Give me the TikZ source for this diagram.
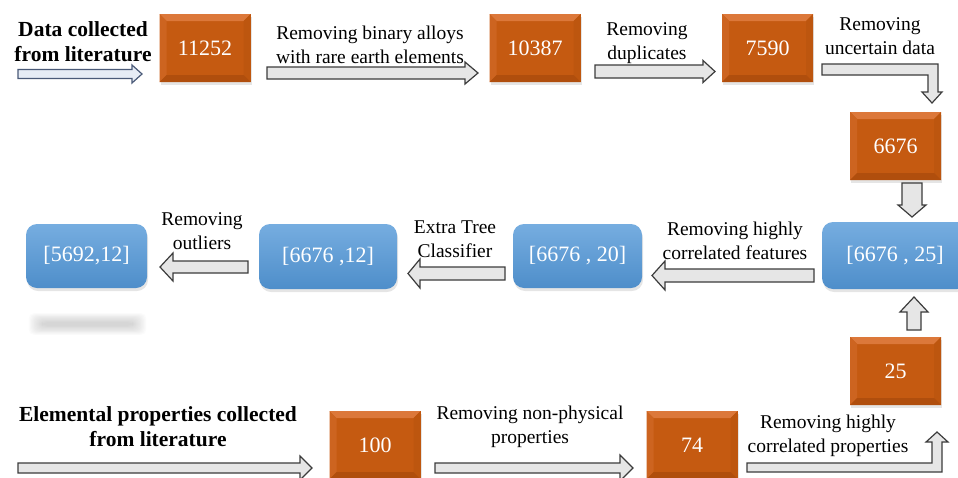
\documentclass[tikz,border=0pt]{standalone}
\usepackage{fontspec}
\setmainfont{Liberation Serif}
\definecolor{orgC}{HTML}{C55A11}
\definecolor{orgT}{HTML}{DC783A}
\definecolor{orgL}{HTML}{CD6420}
\definecolor{orgR}{HTML}{BD560F}
\definecolor{orgB}{HTML}{B04E0D}
\definecolor{bluT}{HTML}{76ADE0}
\definecolor{bluB}{HTML}{4E8ECA}
\definecolor{arrF}{HTML}{E6E6E6}
\definecolor{arrD}{HTML}{3C3C3C}
\definecolor{arrBF}{HTML}{E6ECF5}
\definecolor{arrBD}{HTML}{4A5A78}
\tikzset{
  obox/.style={minimum width=91pt,minimum height=68pt,inner sep=0pt,fill=orgC,text=white,
    font=\fontsize{22}{26}\selectfont,
    path picture={
      \fill[orgT] (path picture bounding box.north west) -- (path picture bounding box.north east)
        -- ([shift={(-7pt,-7pt)}]path picture bounding box.north east) -- ([shift={(7pt,-7pt)}]path picture bounding box.north west) -- cycle;
      \fill[orgL] (path picture bounding box.north west) -- (path picture bounding box.south west)
        -- ([shift={(7pt,7pt)}]path picture bounding box.south west) -- ([shift={(7pt,-7pt)}]path picture bounding box.north west) -- cycle;
      \fill[orgR] (path picture bounding box.north east) -- (path picture bounding box.south east)
        -- ([shift={(-7pt,7pt)}]path picture bounding box.south east) -- ([shift={(-7pt,-7pt)}]path picture bounding box.north east) -- cycle;
      \fill[orgB] (path picture bounding box.south west) -- (path picture bounding box.south east)
        -- ([shift={(-7pt,7pt)}]path picture bounding box.south east) -- ([shift={(7pt,7pt)}]path picture bounding box.south west) -- cycle;
    }},
  bbox/.style={rounded corners=11pt,inner sep=0pt,top color=bluT,bottom color=bluB,text=white,
    font=\fontsize{22}{26}\selectfont},
  lbl/.style={align=center,inner sep=0pt,font=\fontsize{19.5}{23.5}\selectfont},
  blbl/.style={align=center,inner sep=0pt,font=\fontsize{21.5}{25}\selectfont\bfseries},
  arrsty/.style={fill=arrF,draw=arrD,line width=1.2pt,line join=miter},
  arrblue/.style={fill=arrBF,draw=arrBD,line width=1.2pt,line join=miter},
  boxshadow/.style={fill=black,opacity=0.10}
}
\newcommand\harr[7][arrsty]{% tail, headbase, tip, yc, bodyhalf, headhalf
  \filldraw[#1] (#2,{#5-#6}) -- (#3,{#5-#6}) -- (#3,{#5-#7}) -- (#4,#5) -- (#3,{#5+#7}) -- (#3,{#5+#6}) -- (#2,{#5+#6}) -- cycle;}
\newcommand\varr[6]{% tail, headbase, tip, xc, bodyhalf, headhalf
  \filldraw[arrsty] ({#4-#5},#1) -- ({#4-#5},#2) -- ({#4-#6},#2) -- (#4,#3) -- ({#4+#6},#2) -- ({#4+#5},#2) -- ({#4+#5},#1) -- cycle;}
\begin{document}
\begin{tikzpicture}[x=1pt,y=-1pt]
\useasboundingbox (0,0) rectangle (958,477);
\clip (0,0) rectangle (958,477);
\fill[white] (0,0) rectangle (958,477);

% soft shadows of boxes
\foreach \cx/\cy/\w/\h in {205/48/91/68,535/48/91/68,767.5/48/91/68,895.5/146/91/68,895.5/371/91/68,375/445/91/68,692/445/91/68}{
  \fill[boxshadow] ({\cx-\w/2+1},{\cy-\h/2+3}) rectangle ({\cx+\w/2+1},{\cy+\h/2+2.5});
}
\foreach \cx/\cy/\w/\h in {86.5/256/121/64,328/256.5/138/65,577.5/256/129/64,895/255.5/146/67}{
  \fill[boxshadow,rounded corners=11pt] ({\cx-\w/2+1},{\cy-\h/2+3}) rectangle ({\cx+\w/2+1},{\cy+\h/2+3});
}

% blurred reflection under the first result box
\foreach \i in {0,1,...,11}{
  \fill[gray,opacity=0.028,rounded corners=5pt] ({42-\i*1.2},{322-\i*0.8}) rectangle ({133+\i*1.2},{326+\i*0.8});
}

% orange count boxes
\node[obox] (n11252) at (205,48) {11252};
\node[obox] (n10387) at (535,48) {10387};
\node[obox] (n7590) at (767.5,48) {7590};
\node[obox] (n6676) at (895.5,146) {6676};
\node[obox] (n25) at (895.5,371) {25};
\node[obox] (n100) at (375,445) {100};
\node[obox] (n74) at (692,445) {74};

% blue matrix boxes
\node[bbox,minimum width=121pt,minimum height=64pt] (m5692) at (86.5,256) {[5692,12]};
\node[bbox,minimum width=138pt,minimum height=65pt] (m12) at (328,256.5) {[6676 ,12]};
\node[bbox,minimum width=129pt,minimum height=64pt] (m20) at (577.5,256) {[6676 , 20]};
\node[bbox,minimum width=146pt,minimum height=67pt] (m25) at (895,255.5) {[6676 , 25]};

% labels
\node[blbl] (t1) at (83,42) {Data collected\\from literature};
\node[lbl] (t2) at (370,45) {Removing binary alloys\\with rare earth elements};
\node[lbl] (t3) at (647,43) {Removing\\duplicates};
\node[lbl] (t4) at (880,36) {Removing\\uncertain data};
\node[lbl] (t5) at (735,241) {Removing highly\\correlated features};
\node[lbl] (t6) at (455,239) {Extra Tree\\Classifier};
\node[lbl] (t7) at (202,231) {Removing\\outliers};
\node[blbl] (t8) at (158,427) {Elemental properties collected\\from literature};
\node[lbl] (t9) at (530,427) {Removing non-physical\\properties};
\node[lbl] (t10) at (828,436) {Removing highly\\correlated properties};

% block arrows
\harr[arrblue]{18}{132}{142}{74}{4.5}{9}
\harr{267}{465}{478}{73}{6}{11}
\harr{595}{703}{715}{71.5}{6.5}{11}
\filldraw[arrsty] (822,64) -- (938,64) -- (938,92) -- (942,92) -- (932,103) -- (922,92) -- (928,92) -- (928,75) -- (822,75) -- cycle;
\varr{183}{205}{217}{912}{10}{14}
\harr{814}{665}{652}{275.5}{6.5}{14.5}
\harr{505}{420}{408}{273.5}{6.5}{14.5}
\harr{248}{173}{160}{267}{6}{14}
\varr{330}{312}{297}{914}{7}{14}
\harr{18}{300}{312}{468}{5}{12}
\harr{435}{620}{633}{468}{5}{13}
\filldraw[arrsty] (747,463) -- (932,463) -- (932,442) -- (926,442) -- (937,432) -- (948,442) -- (942,442) -- (942,472) -- (747,472) -- cycle;
\end{tikzpicture}
\end{document}
